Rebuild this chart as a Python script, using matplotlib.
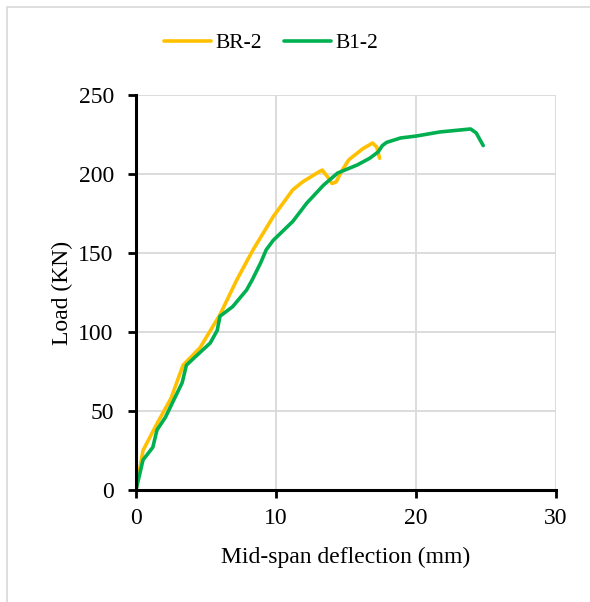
import matplotlib.pyplot as plt
from matplotlib.patches import Rectangle

plt.rcParams['font.family'] = ['Liberation Serif', 'DejaVu Serif']

# BR-2
br2_x = [0, 0.5, 1.5, 2.5, 3.36, 4.57, 6.0, 7.2, 8.36, 9.8, 11.2, 11.9,
         13.0, 13.3, 13.7, 14.0, 14.3, 14.7, 15.2, 16.2, 16.9, 17.2, 17.4]
br2_y = [0, 25, 42, 58, 79, 90, 111, 133, 152, 173, 190, 195,
         201, 202.5, 198, 194, 195, 202, 209, 216, 219.6, 217, 210]

# B1-2
b12_x = [0, 0.5, 1.2, 1.5, 2.1, 3.3, 3.6, 4.2, 5.3, 5.8, 6.0, 6.9, 7.9,
         8.3, 8.9, 9.3, 9.8, 11.2, 12.2, 13.4, 14.4, 15.8, 16.7, 17.3,
         17.6, 17.9, 18.9, 20.0, 21.7, 23.9, 24.3, 24.7, 24.8]
b12_y = [0, 19, 27, 38, 46, 68, 79, 84, 93, 101, 110, 116, 126.6,
         133, 143.7, 152, 158, 170, 181.6, 193, 200.6, 205.7, 210, 214,
         218, 220, 222.8, 224, 226.6, 228.5, 226, 219.6, 218]

x_ticks = [0, 10, 20, 30]
y_ticks = [0, 50, 100, 150, 200, 250]

fig = plt.figure(figsize=(5.9, 6.02), dpi=100)
ax = fig.add_axes([136/590, 1 - 490/602, 420/590, 395/602])

ax.plot(br2_x, br2_y, color='#FFC000', lw=2.6, label='BR-2',
        solid_joinstyle='round', solid_capstyle='round')
ax.plot(b12_x, b12_y, color='#00B050', lw=2.6, label='B1-2',
        solid_joinstyle='round', solid_capstyle='round')

ax.set_xlim(0, 30)
ax.set_ylim(0, 250)
ax.set_xticks(x_ticks)
ax.set_yticks(y_ticks)
ax.grid(True, color='#d9d9d9', lw=1.3)
ax.set_axisbelow(True)
for s in ['top', 'right']:
    ax.spines[s].set_visible(False)
for s in ['left', 'bottom']:
    ax.spines[s].set_linewidth(2.2)
ax.tick_params(axis='both', labelsize=17, width=2, length=6, color='black')
ax.tick_params(axis='x', pad=7)
ax.tick_params(axis='y', pad=10)
ax.set_xlabel('Mid-span deflection (mm)', fontsize=17, labelpad=13)
ax.set_ylabel('Load (KN)', fontsize=17, labelpad=4)

fig.legend(loc='center', bbox_to_anchor=(271/590, 1 - 43/602), ncol=2,
           frameon=False, fontsize=15.5, handlelength=2.2, handletextpad=0.2,
           columnspacing=1.0)

fig.patches.append(Rectangle((7/590, -0.1), 1.2, 1 - 7/602 + 0.1,
                             transform=fig.transFigure, fill=False,
                             edgecolor='#d9d9d9', lw=1.2))

fig.savefig('out.png', dpi=100)
